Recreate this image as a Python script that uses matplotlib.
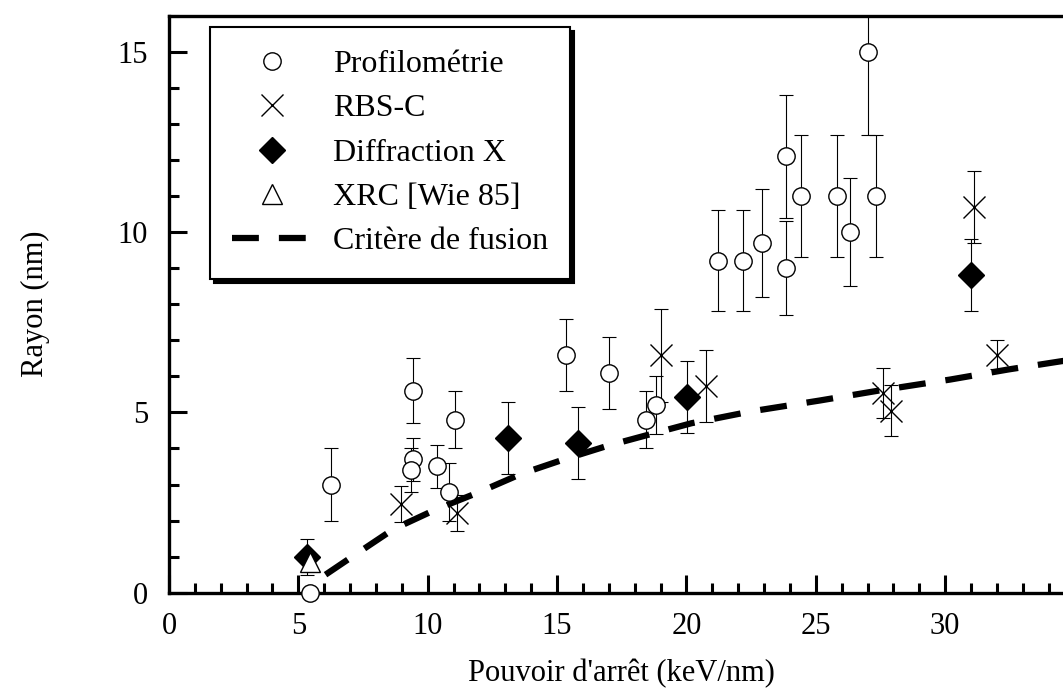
import matplotlib
matplotlib.use("Agg")
import matplotlib.pyplot as plt
from matplotlib.ticker import MultipleLocator

# Profilometrie (open circles)
prof_x = [5.45, 6.25, 9.44, 9.45, 9.34, 10.35, 11.04, 10.84, 15.35, 17.02, 18.43,
          18.81, 21.23, 22.2, 22.92, 23.84, 23.84, 24.43, 25.81, 26.32, 27.03, 27.32]
prof_y = [0.0, 3.0, 5.6, 3.7, 3.4, 3.5, 4.8, 2.8, 6.6, 6.1, 4.8,
          5.2, 9.2, 9.2, 9.7, 12.1, 9.0, 11.0, 11.0, 10.0, 15.0, 11.0]
prof_err = [0.0, 1.0, 0.9, 0.6, 0.6, 0.6, 0.8, 0.8, 1.0, 1.0, 0.8,
            0.8, 1.4, 1.4, 1.5, 1.7, 1.3, 1.7, 1.7, 1.5, 2.3, 1.7]

# RBS-C (crosses)
rbs_x = [8.96, 11.15, 19.02, 20.74, 27.61, 27.91, 31.12, 32.0]
rbs_y = [2.46, 2.2, 6.58, 5.72, 5.54, 5.05, 10.7, 6.6]
rbs_err = [0.5, 0.5, 1.3, 1.0, 0.7, 0.7, 1.0, 0.4]

# Diffraction X (filled diamonds)
dx_x = [5.35, 13.12, 15.82, 20.02, 31.0]
dx_y = [1.0, 4.3, 4.15, 5.43, 8.81]
dx_err = [0.5, 1.0, 1.0, 1.0, 1.0]

# XRC [Wie 85] (open triangle)
xrc_x = [5.45]
xrc_y = [0.86]

# Critere de fusion (dashed curve)
fus_x = [6.05, 7.0, 8.67, 10.35, 11.96, 13.63, 15.24, 16.98, 18.53, 20.2,
         22.52, 25.16, 27.48, 30.19, 32.44, 34.5, 35.0]
fus_y = [0.5, 0.96, 1.76, 2.32, 2.78, 3.3, 3.69, 4.08, 4.38, 4.7,
         5.03, 5.33, 5.61, 5.91, 6.19, 6.42, 6.47]

xtick_labels = ['0', '5', '10', '15', '20', '25', '30', '']

plt.rcParams['font.family'] = ['Liberation Serif', 'DejaVu Serif']
plt.rcParams['font.size'] = 22

fig = plt.figure(figsize=(10.63, 6.93), dpi=100)
ax = fig.add_axes([169 / 1063, 100.3 / 693, 905.5 / 1063, 577 / 693])

err_kw = dict(fmt='none', ecolor='black', elinewidth=0.8, capsize=4.7,
              capthick=0.8, zorder=2)
ax.errorbar(prof_x, prof_y, yerr=prof_err, **err_kw)
ax.errorbar(rbs_x, rbs_y, yerr=rbs_err, **err_kw)
ax.errorbar(dx_x, dx_y, yerr=dx_err, **err_kw)

h_fus, = ax.plot(fus_x, fus_y, color='black', lw=4.5, linestyle=(0, (4.3, 3.2)),
                 dash_capstyle='butt', zorder=3)

h_prof, = ax.plot(prof_x, prof_y, 'o', ms=12.5, mfc='white', mec='black', mew=1.0,
                  zorder=4, clip_on=False)
h_rbs, = ax.plot(rbs_x, rbs_y, 'x', ms=16, mec='black', mew=1.0, zorder=4)
h_dx, = ax.plot(dx_x, dx_y, 'D', ms=13.5, mfc='black', mec='black', mew=1.0,
                zorder=4)
h_xrc, = ax.plot(xrc_x, xrc_y, '^', ms=14.5, mfc='white', mec='black', mew=1.0,
                 zorder=5)

ax.set_xlim(0, 35)
ax.set_ylim(0, 16)
ax.set_xticks([0, 5, 10, 15, 20, 25, 30, 35])
ax.set_xticklabels(xtick_labels)
ax.xaxis.set_minor_locator(MultipleLocator(1))
ax.yaxis.set_major_locator(MultipleLocator(5))
ax.yaxis.set_minor_locator(MultipleLocator(1))
ax.tick_params(which='major', direction='in', length=13, width=2.2)
ax.tick_params(which='minor', direction='in', length=7, width=2.2)
ax.tick_params(axis='x', which='major', pad=14)
ax.tick_params(axis='y', which='major', pad=15)
for s in ax.spines.values():
    s.set_linewidth(2.4)

ax.set_xlabel("Pouvoir d'arrêt (keV/nm)")
ax.set_ylabel("Rayon (nm)")
ax.xaxis.set_label_coords(0.5, -0.115)
ax.yaxis.set_label_coords(-0.131, 0.5)

leg = ax.legend([h_prof, h_rbs, h_dx, h_xrc, h_fus],
                ['Profilométrie', 'RBS-C', 'Diffraction X', 'XRC [Wie 85]',
                 'Critère de fusion'],
                loc='upper left', bbox_to_anchor=(0.045, 0.98), borderaxespad=0,
                fancybox=False, framealpha=1, edgecolor='black', fontsize=23,
                handlelength=2.5, handletextpad=0.65, labelspacing=0.47,
                borderpad=0.7, numpoints=1,
                shadow={'ox': 3, 'oy': -3, 'facecolor': 'black',
                        'edgecolor': 'black', 'alpha': 1})
leg.get_frame().set_linewidth(1.5)

fig.savefig('out.png', dpi=100)
